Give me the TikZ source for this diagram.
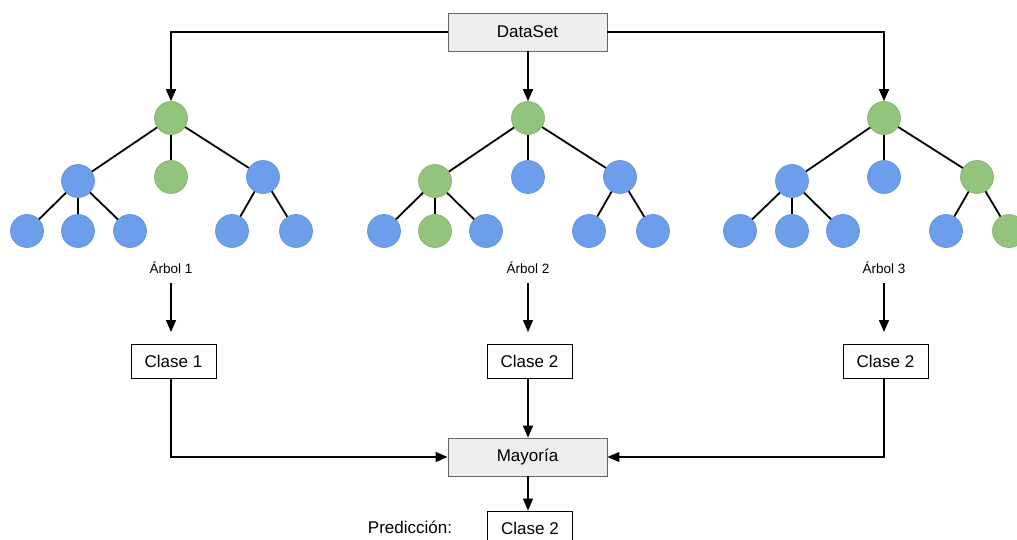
\documentclass[tikz,border=0pt]{standalone}
\usepackage{fontspec}
\setmainfont{Liberation Sans}
\usetikzlibrary{arrows.meta}
\definecolor{nblue}{HTML}{6D9EEB}
\definecolor{nblueb}{HTML}{5B8DE0}
\definecolor{ngreen}{HTML}{93C47D}
\definecolor{ngreenb}{HTML}{7DB065}
\definecolor{boxgray}{HTML}{EEEEEE}
\definecolor{boxline}{HTML}{666666}
\begin{document}
\begin{tikzpicture}[x=1pt,y=-1pt,
  bl/.style={circle,fill=nblue,draw=nblueb,line width=0.6pt,minimum size=33pt,inner sep=0pt},
  gr/.style={circle,fill=ngreen,draw=ngreenb,line width=0.6pt,minimum size=33pt,inner sep=0pt},
  graybox/.style={draw=boxline,fill=boxgray,line width=0.8pt,minimum width=159pt,minimum height=38pt,inner sep=0pt,font=\fontsize{17}{20}\selectfont},
  classbox/.style={draw=black,fill=white,line width=0.8pt,minimum width=85pt,minimum height=34pt,inner sep=0pt,font=\fontsize{17}{20}\selectfont},
  lbl/.style={font=\fontsize{13.5}{16}\selectfont,inner sep=0pt},
  edge/.style={line width=1.8pt,black},
  conn/.style={line width=1.5pt,black,-{Triangle[length=12pt,width=10pt]}},
  plain/.style={line width=1.5pt,black}]
\useasboundingbox (0,0) rectangle (1017,540);

% top box
\node[graybox] (ds) at (527.5,32) {DataSet};

% tree 1
\node[gr] (r1) at (171,118) {};
\node[bl] (a1) at (78,181) {};
\node[gr] (b1) at (171,177) {};
\node[bl] (c1) at (263,177) {};
\node[bl] (a1x) at (27,231) {};
\node[bl] (a1y) at (78,231) {};
\node[bl] (a1z) at (130,231) {};
\node[bl] (c1x) at (232,231) {};
\node[bl] (c1y) at (296,231) {};
% tree 2
\node[gr] (r2) at (528,118) {};
\node[gr] (a2) at (435,181) {};
\node[bl] (b2) at (528,177) {};
\node[bl] (c2) at (620,177) {};
\node[bl] (a2x) at (384,231) {};
\node[gr] (a2y) at (435,231) {};
\node[bl] (a2z) at (486,231) {};
\node[bl] (c2x) at (589,231) {};
\node[bl] (c2y) at (653,231) {};
% tree 3
\node[gr] (r3) at (884,118) {};
\node[bl] (a3) at (792,181) {};
\node[bl] (b3) at (884,177) {};
\node[gr] (c3) at (977,177) {};
\node[bl] (a3x) at (740,231) {};
\node[bl] (a3y) at (792,231) {};
\node[bl] (a3z) at (843,231) {};
\node[bl] (c3x) at (946,231) {};
\node[gr] (c3y) at (1009,231) {};

\foreach \t in {1,2,3}{
  \draw[edge] (r\t) -- (a\t);
  \draw[edge] (r\t) -- (b\t);
  \draw[edge] (r\t) -- (c\t);
  \draw[edge] (a\t) -- (a\t x);
  \draw[edge] (a\t) -- (a\t y);
  \draw[edge] (a\t) -- (a\t z);
  \draw[edge] (c\t) -- (c\t x);
  \draw[edge] (c\t) -- (c\t y);
}

% labels
\node[lbl] (l1) at (171,268) {Árbol 1};
\node[lbl] (l2) at (528,268) {Árbol 2};
\node[lbl] (l3) at (884,268) {Árbol 3};

% class boxes
\node[classbox] (k1) at (173.5,361) {Clase 1};
\node[classbox] (k2) at (529.5,361) {Clase 2};
\node[classbox] (k3) at (885.5,361) {Clase 2};

\node[graybox] (may) at (527.5,457) {Mayoría};
\node[classbox] (fin) at (530,528) {Clase 2};
\node[font=\fontsize{17}{20}\selectfont,inner sep=0pt] (pred) at (410,527) {Predicción:};

% connectors from DataSet
\draw[conn] (ds.west) -| (r1.north);
\draw[conn] (ds.south -| r2) -- (r2.north);
\draw[conn] (ds.east) -| (r3.north);

% labels to class boxes
\coordinate (s1) at (171,283);
\coordinate (s2) at (528,283);
\coordinate (s3) at (884,283);
\coordinate (e1) at (171,332);
\coordinate (e2) at (528,332);
\coordinate (e3) at (884,332);
\draw[conn] (s1) -- (e1);
\draw[conn] (s2) -- (e2);
\draw[conn] (s3) -- (e3);

% class boxes to Mayoria
\draw[conn] (k1.south -| r1) |- (may.west);
\draw[conn] (k2.south -| r2) -- (may.north -| r2);
\draw[conn] (k3.south -| r3) |- (may.east);
\draw[conn] (may.south -| r2) -- (fin.north -| r2);
\end{tikzpicture}
\end{document}
